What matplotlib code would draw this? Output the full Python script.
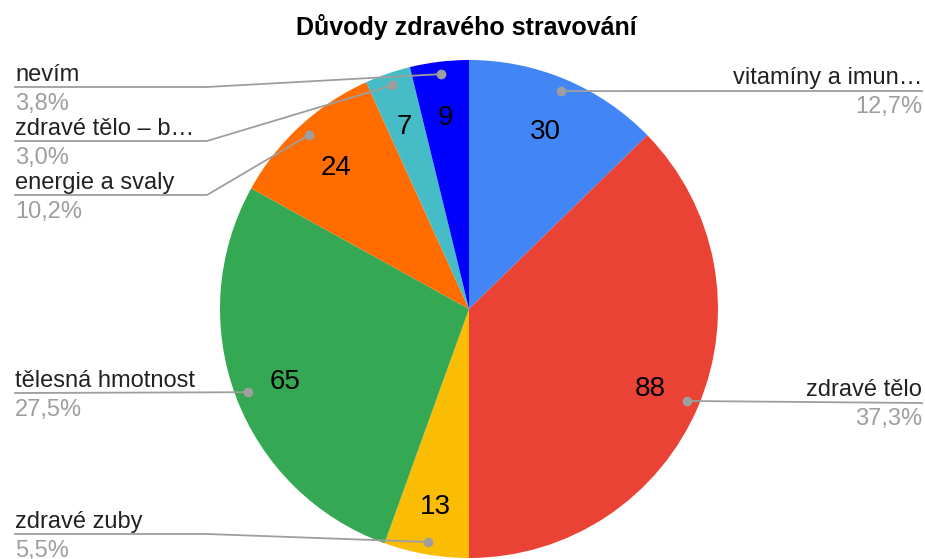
import matplotlib.pyplot as plt
import numpy as np

plt.rcParams['font.family'] = ['Liberation Sans', 'DejaVu Sans']

# data
labels = ['vitamíny a imun…', 'zdravé tělo', 'zdravé zuby', 'tělesná hmotnost',
          'energie a svaly', 'zdravé tělo – b…', 'nevím']
values = [30, 88, 13, 65, 24, 7, 9]
colors = ['#4285F4', '#EA4335', '#FBBC04', '#34A853', '#FF6D01', '#46BDC6', '#0000FF']

# layout (pixels)
W, H = 925, 559
cx, cy, r = 469, H - 309, 249
label_y = [91, 403, 534, 393, 195, 141, 87]   # y of label line from top
side = ['R', 'R', 'L', 'L', 'L', 'L', 'L']

fig = plt.figure(figsize=(W / 100, H / 100), dpi=100)
ax = fig.add_axes([0, 0, 1, 1])

total = sum(values)
wedges, texts, autotexts = ax.pie(
    values, colors=colors, startangle=90, counterclock=False,
    center=(cx, cy), radius=r, wedgeprops=dict(linewidth=0),
    autopct=lambda p: '%d' % round(p * total / 100), pctdistance=0.79,
    textprops=dict(fontsize=20, color='black'))
for t in autotexts:
    x, y = t.get_position()
    t.set_position((x, y - 4))

ax.set_xlim(0, W)
ax.set_ylim(0, H)
ax.set_aspect('equal')
ax.axis('off')

line_c = '#9e9e9e'
cum = np.cumsum([0] + values)
for i, lab in enumerate(labels):
    mid = (cum[i] + values[i] / 2) / total * 2 * np.pi
    dx = cx + 0.95 * r * np.sin(mid)
    dy = cy + 0.95 * r * np.cos(mid)
    ly = H - label_y[i]
    pct = ('%.1f%%' % (values[i] / total * 100)).replace('.', ',')
    if side[i] == 'R':
        ax.plot([dx, 922], [dy, ly], color=line_c, lw=1.3)
        ax.text(922, ly + 7, lab, ha='right', va='baseline', fontsize=17, color='#222222')
        ax.text(922, ly - 22, pct, ha='right', va='baseline', fontsize=17, color='#9e9e9e')
    else:
        if abs(dy - ly) < 6:
            ax.plot([15, dx], [ly, dy], color=line_c, lw=1.3)
        else:
            ax.plot([15, 207, dx], [ly, ly, dy], color=line_c, lw=1.3)
        ax.text(15, ly + 6, lab, ha='left', va='baseline', fontsize=17, color='#222222')
        ax.text(15, ly - 23, pct, ha='left', va='baseline', fontsize=17, color='#9e9e9e')
    ax.plot(dx, dy, 'o', color=line_c, ms=6)

ax.text(W / 2 + 4, H - 27, 'Důvody zdravého stravování', ha='center', va='center',
        fontsize=18, fontweight='bold', color='black')

fig.savefig('out.png', dpi=100)
